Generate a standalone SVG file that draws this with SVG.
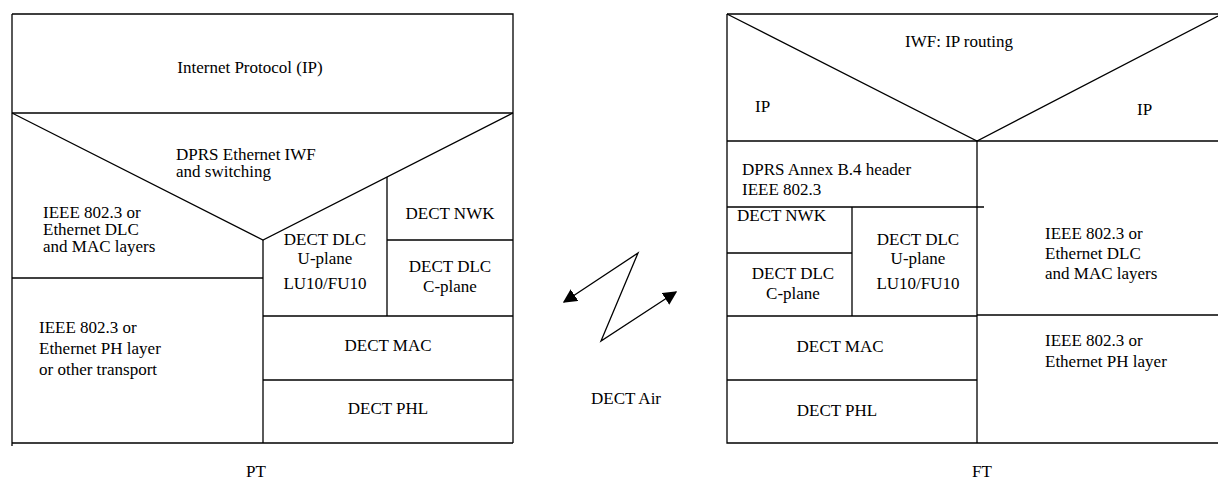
<svg xmlns="http://www.w3.org/2000/svg" width="1218" height="482" viewBox="0 0 1218 482">
<style>
.l{stroke:#000;stroke-width:1.3;fill:none}
.t{font-family:'Liberation Serif','DejaVu Serif',serif;font-size:17px;fill:#000}
.c{text-anchor:middle}
</style>
<defs>
<marker id="ah" viewBox="0 0 10 10" refX="9" refY="5" markerWidth="14" markerHeight="14" markerUnits="userSpaceOnUse" orient="auto-start-reverse">
<path d="M0,0 L10,5 L0,10 z" fill="#000"/>
</marker>
</defs>
<rect width="1218" height="482" fill="#fff"/>
<g class="t" font-family="Liberation Serif, DejaVu Serif, serif">
<g id="pt-frame">
<path class="l" d="M12,14 V446 M12,14 H513 V443 M12,443 H513"/>
</g>
<g id="pt-ip"><path class="l" d="M12,113 H513"/><text class="c" x="250" y="73">Internet Protocol (IP)</text></g>
<g id="pt-iwf"><path class="l" d="M12,113 L263,240 L513,113"/><text x="176" y="160">DPRS Ethernet IWF</text><text x="176" y="177">and switching</text></g>
<g id="pt-eth-dlc"><path class="l" d="M12,278 H263"/><text x="43" y="218">IEEE 802.3 or</text><text x="43" y="235">Ethernet DLC</text><text x="43" y="252">and MAC layers</text></g>
<g id="pt-uplane"><path class="l" d="M263,240 V443"/><text class="c" x="325" y="245">DECT DLC</text><text class="c" x="325" y="264">U-plane</text><text class="c" x="325" y="289">LU10/FU10</text></g>
<g id="pt-nwk"><path class="l" d="M387,177 V316 M387,240 H513"/><text class="c" x="450" y="219">DECT NWK</text></g>
<g id="pt-cplane"><text class="c" x="450" y="272">DECT DLC</text><text class="c" x="450" y="292">C-plane</text></g>
<g id="pt-eth-ph"><text x="39" y="333">IEEE 802.3 or</text><text x="39" y="354">Ethernet PH layer</text><text x="39" y="375">or other transport</text></g>
<g id="pt-mac"><path class="l" d="M263,316 H513"/><text class="c" x="388" y="351">DECT MAC</text></g>
<g id="pt-phl"><path class="l" d="M263,380 H513"/><text class="c" x="388" y="414">DECT PHL</text></g>
<g id="pt-label"><text class="c" x="256" y="477">PT</text></g>

<g id="air"><text class="c" x="626" y="404">DECT Air</text></g>
<g id="connectors">
<path class="l" d="M564,302 L638,253 L601,341 L676,292" marker-start="url(#ah)" marker-end="url(#ah)"/>
</g>

<g id="ft-frame"><path class="l" d="M727,14 V443 H1218 M727,14 H1218"/></g>
<g id="ft-iwf"><path class="l" d="M727,14 L977,141 L1218,16"/><text x="905" y="47">IWF: IP routing</text></g>
<g id="ft-ip-left"><path class="l" d="M727,141 H1218"/><text x="755" y="112">IP</text></g>
<g id="ft-ip-right"><text x="1137" y="115">IP</text></g>
<g id="ft-annex"><path class="l" d="M977,141 V443 M727,207 H984"/><text x="742" y="175">DPRS Annex B.4 header</text><text x="742" y="195">IEEE 802.3</text></g>
<g id="ft-nwk"><path class="l" d="M852,207 V316 M727,253 H852"/><text x="737" y="221">DECT NWK</text></g>
<g id="ft-uplane"><text class="c" x="918" y="245">DECT DLC</text><text class="c" x="918" y="264">U-plane</text><text class="c" x="918" y="289">LU10/FU10</text></g>
<g id="ft-cplane"><text class="c" x="793" y="279">DECT DLC</text><text class="c" x="793" y="299">C-plane</text></g>
<g id="ft-eth-dlc"><path class="l" d="M977,315 H1218"/><text x="1045" y="239">IEEE 802.3 or</text><text x="1045" y="259">Ethernet DLC</text><text x="1045" y="279">and MAC layers</text></g>
<g id="ft-eth-ph"><text x="1045" y="346">IEEE 802.3 or</text><text x="1045" y="367">Ethernet PH layer</text></g>
<g id="ft-mac"><path class="l" d="M727,316 H977"/><text class="c" x="840" y="352">DECT MAC</text></g>
<g id="ft-phl"><path class="l" d="M727,380 H977"/><text class="c" x="837" y="416">DECT PHL</text></g>
<g id="ft-label"><text class="c" x="982" y="477">FT</text></g>
</g>
</svg>
